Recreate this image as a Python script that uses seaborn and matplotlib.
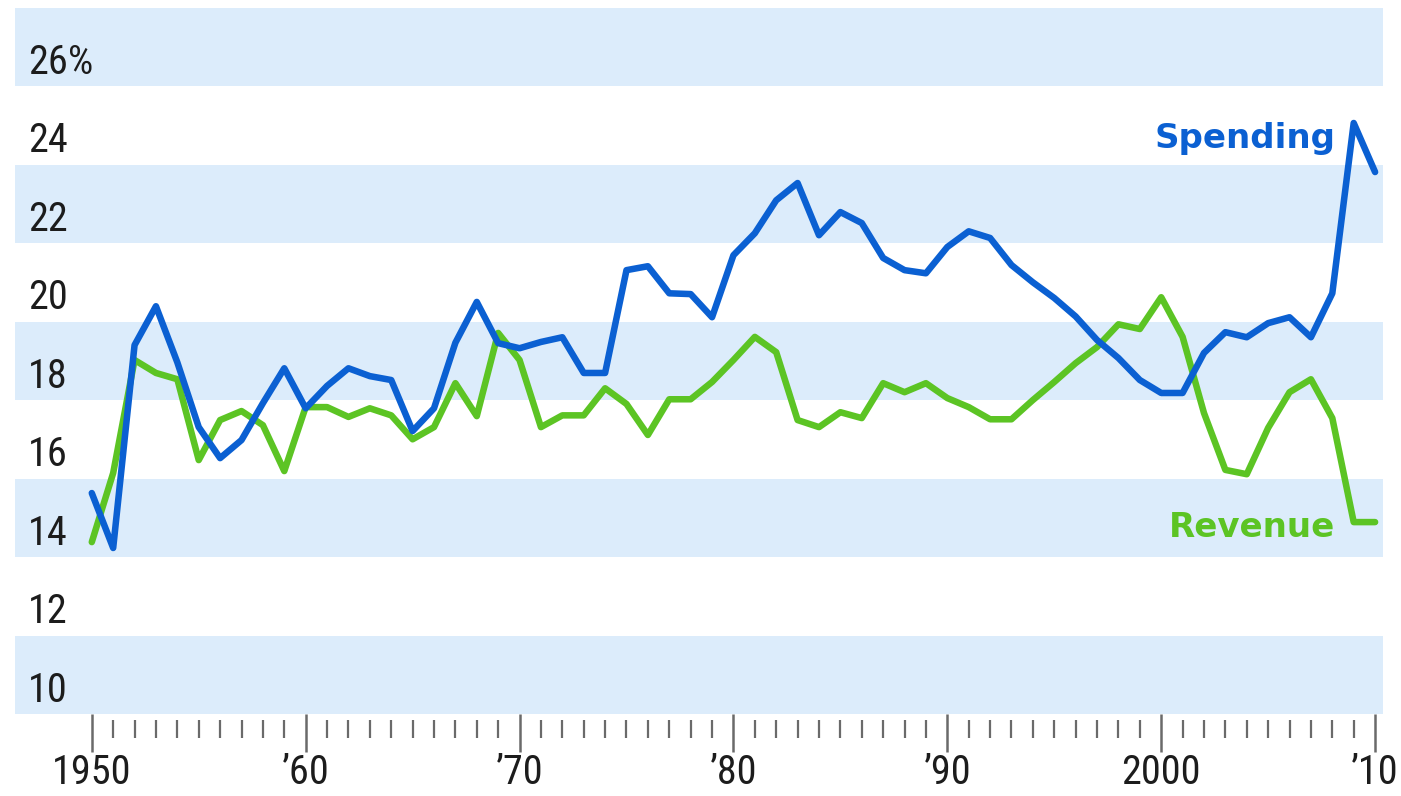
import numpy as np
import pandas as pd
import matplotlib
matplotlib.use("Agg")
import matplotlib.pyplot as plt
import matplotlib.transforms as mtransforms
import seaborn as sns

# Federal spending and revenue, percent of GDP, 1950-2010
years = list(range(1950, 2011))
spending = [
    15.02, 13.62, 18.79, 19.78, 18.35, 16.70, 15.91, 16.37, 17.31, 18.20,
    17.18, 17.75, 18.20, 18.00, 17.90, 16.60, 17.18, 18.85, 19.89, 18.84,
    18.71, 18.87, 18.99, 18.08, 18.08, 20.70, 20.80, 20.11, 20.09, 19.50,
    21.08, 21.64, 22.48, 22.92, 21.59, 22.18, 21.90, 21.01, 20.70, 20.62,
    21.29, 21.69, 21.52, 20.83, 20.39, 19.99, 19.52, 18.92, 18.46, 17.90,
    17.57, 17.57, 18.59, 19.12, 18.99, 19.35, 19.50, 18.99, 20.11, 24.45,
    23.20,
]
revenue = [
    13.77, 15.53, 18.41, 18.08, 17.92, 15.86, 16.88, 17.11, 16.75, 15.58,
    17.21, 17.21, 16.96, 17.18, 17.00, 16.39, 16.70, 17.82, 16.98, 19.10,
    18.41, 16.70, 17.00, 17.00, 17.69, 17.29, 16.50, 17.41, 17.41, 17.85,
    18.41, 19.00, 18.61, 16.88, 16.70, 17.08, 16.93, 17.82, 17.59, 17.82,
    17.44, 17.21, 16.90, 16.90, 17.39, 17.85, 18.33, 18.74, 19.32, 19.20,
    20.01, 19.00, 17.06, 15.61, 15.50, 16.68, 17.59, 17.92, 16.93, 14.28,
    14.28,
]
y_ticks = [26, 24, 22, 20, 18, 16, 14, 12, 10]
y_tick_labels = ["26%", "24", "22", "20", "18", "16", "14", "12", "10"]
band_values = [26, 22, 18, 14, 10]
x_ticks = [1950, 1960, 1970, 1980, 1990, 2000, 2010]
x_tick_labels = ["1950", "\u201960", "\u201970", "\u201980", "\u201990", "2000", "\u201910"]

BLUE = "#0b60d2"
GREEN = "#5cc424"
BAND = "#dcecfb"
INK = "#1c1c1c"
TICK = "#6a6a6a"

sns.set_theme(style="white")
plt.rcParams["font.family"] = ["Roboto Condensed", "Open Sans Condensed",
                               "DejaVu Sans Condensed", "Noto Sans Condensed",
                               "Roboto", "DejaVu Sans"]
plt.rcParams["lines.solid_joinstyle"] = "round"

df = pd.DataFrame({
    "year": years * 2,
    "pct": revenue + spending,
    "series": ["Revenue"] * len(years) + ["Spending"] * len(years),
})

fig = plt.figure(figsize=(14.01, 7.96), dpi=100)
ax = fig.add_axes([15 / 1401, 1 - 714 / 796, 1368 / 1401, 706 / 796])
ax.set_facecolor("white")

# alternating horizontal bands
for v in band_values:
    ax.axhspan(v - 0.61, v + 1.38, color=BAND, lw=0, zorder=0)

sns.lineplot(data=df, x="year", y="pct", hue="series",
             hue_order=["Revenue", "Spending"],
             palette={"Revenue": GREEN, "Spending": BLUE},
             linewidth=4.7, legend=False, ax=ax, zorder=3)

ax.set_xlim(1946.41, 2010.37)
ax.set_ylim(9.39, 27.38)
for s in ax.spines.values():
    s.set_visible(False)
ax.set_xlabel("")
ax.set_ylabel("")

# y labels sit inside the plot, left aligned
ax.set_yticks([])
trans = mtransforms.blended_transform_factory(ax.transAxes, ax.transData)
for v, lab in zip(y_ticks, y_tick_labels):
    ax.text(0.0095, v, lab, transform=trans, ha="left", va="center",
            fontsize=29, color=INK, zorder=4)

# decade ticks with labels
ax.set_xticks(x_ticks)
ax.set_xticklabels(x_tick_labels)
ax.tick_params(axis="x", which="major", direction="out", length=27.4,
               width=1.8, color=TICK, pad=1, labelsize=29, labelcolor=INK,
               bottom=True)

# yearly ticks, set slightly below the plot edge
ax2 = ax.twiny()
ax2.set_xlim(ax.get_xlim())
ax2.xaxis.set_ticks_position("bottom")
for s in ax2.spines.values():
    s.set_visible(False)
ax2.spines["bottom"].set_position(("outward", 4.3))
ax2.set_xticks([y for y in years if y % 10 != 0])
ax2.set_xticklabels([])
ax2.tick_params(axis="x", direction="out", length=13, width=1.6,
                color=TICK, bottom=True, top=False)

# series labels
ax.text(2008.13, 23.81, "Spending", ha="right", va="baseline",
        fontsize=24.5, fontweight="bold", color=BLUE,
        family=["DejaVu Sans"], zorder=5)
ax.text(2008.13, 13.90, "Revenue", ha="right", va="baseline",
        fontsize=24.5, fontweight="bold", color=GREEN,
        family=["DejaVu Sans"], zorder=5)

fig.savefig("out.png", dpi=100, facecolor="white")
